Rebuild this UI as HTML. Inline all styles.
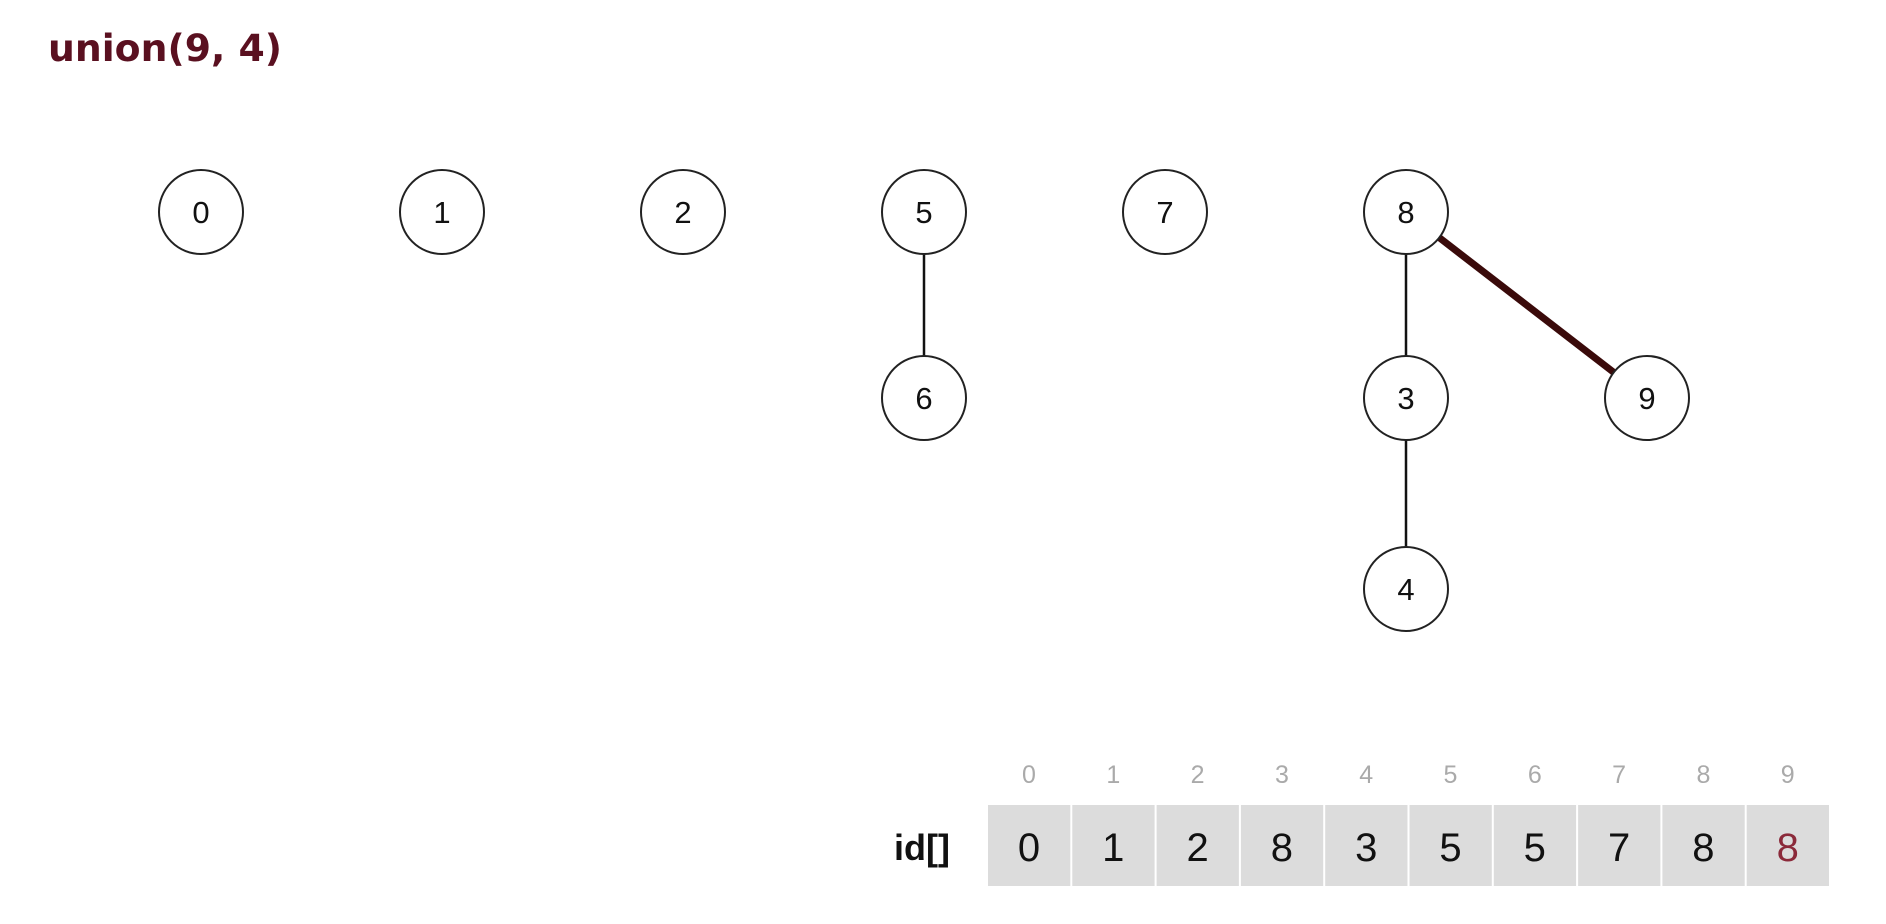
<!DOCTYPE html>
<html><head><meta charset="utf-8">
<style>
html,body{margin:0;padding:0;background:#fff;}
svg{display:block;font-family:"Liberation Sans",sans-serif;}
</style></head>
<body>
<svg id="chart" width="1886" height="924" viewBox="0 0 1886 924" xmlns="http://www.w3.org/2000/svg">
<text x="48" y="61" font-size="37" font-weight="bold" fill="#5a1020" font-family="DejaVu Sans, sans-serif" textLength="234" lengthAdjust="spacingAndGlyphs">union(9, 4)</text>
<g id="edges"></g>
<g id="nodes"></g>
<g id="array"></g>
</svg>
<script>
const nodeLabels = ['0','1','2','5','7','8','6','3','9','4'];
const nodeCols = [0,1,2,3,4,5,3,5,6,5];
const nodeRows = [0,0,0,0,0,0,1,1,1,2];
const edgeFrom = ['5','8','3','8'];
const edgeTo = ['6','3','4','9'];
const edgeHighlight = [false,false,false,true];
const idIndex = [0,1,2,3,4,5,6,7,8,9];
const idValues = [0,1,2,8,3,5,5,7,8,8];
const highlightIdx = 9;

const NS='http://www.w3.org/2000/svg';
const colX = c => 201 + c*241;
const rowY = r => [212,398,589][r];
const R = 42;
function mk(tag, attrs, parent){const e=document.createElementNS(NS,tag);for(const k in attrs)e.setAttribute(k,attrs[k]);parent.appendChild(e);return e;}
const pos = {};
nodeLabels.forEach((l,i)=>{pos[l]=[colX(nodeCols[i]),rowY(nodeRows[i])];});
const eg=document.getElementById('edges');
edgeFrom.forEach((f,i)=>{
  const a=pos[f], b=pos[edgeTo[i]];
  const dx=b[0]-a[0], dy=b[1]-a[1], d=Math.hypot(dx,dy);
  const ln=mk('line',{x1:a[0]+dx/d*R,y1:a[1]+dy/d*R,x2:b[0]-dx/d*R,y2:b[1]-dy/d*R,stroke:edgeHighlight[i]?'#3a0a0a':'#111','stroke-width':edgeHighlight[i]?7:2.5},eg);
  
  
});
const ng=document.getElementById('nodes');
nodeLabels.forEach((l,i)=>{
  const g=mk('g',{},ng);
  
  
  const [x,y]=pos[l];
  mk('circle',{cx:x,cy:y,r:R,fill:'#fff',stroke:'#222','stroke-width':2},g);
  const t=mk('text',{x:x,y:y+11,'text-anchor':'middle','font-size':31,fill:'#111'},g);
  t.textContent=l;
});
const ag=document.getElementById('array');
const lab=mk('text',{x:950,y:860,'text-anchor':'end','font-size':36,'font-weight':'bold',fill:'#111'},ag);
lab.textContent='id[]';


const cellX = i => 987 + i*84.3;
idValues.forEach((v,i)=>{
  const r=mk('rect',{x:cellX(i)+1,y:805,width:82.3,height:81,fill:'#dcdcdc'},ag);
  
  
  const t=mk('text',{x:cellX(i)+42,y:861,'text-anchor':'middle','font-size':40,fill:i===highlightIdx?'#8b2a3a':'#111'},ag);
  t.textContent=v;
  
  
  const ix=mk('text',{x:cellX(i)+42,y:783,'text-anchor':'middle','font-size':25,fill:'#aaa'},ag);
  ix.textContent=idIndex[i];
  
  
});
</script>
</body></html>
